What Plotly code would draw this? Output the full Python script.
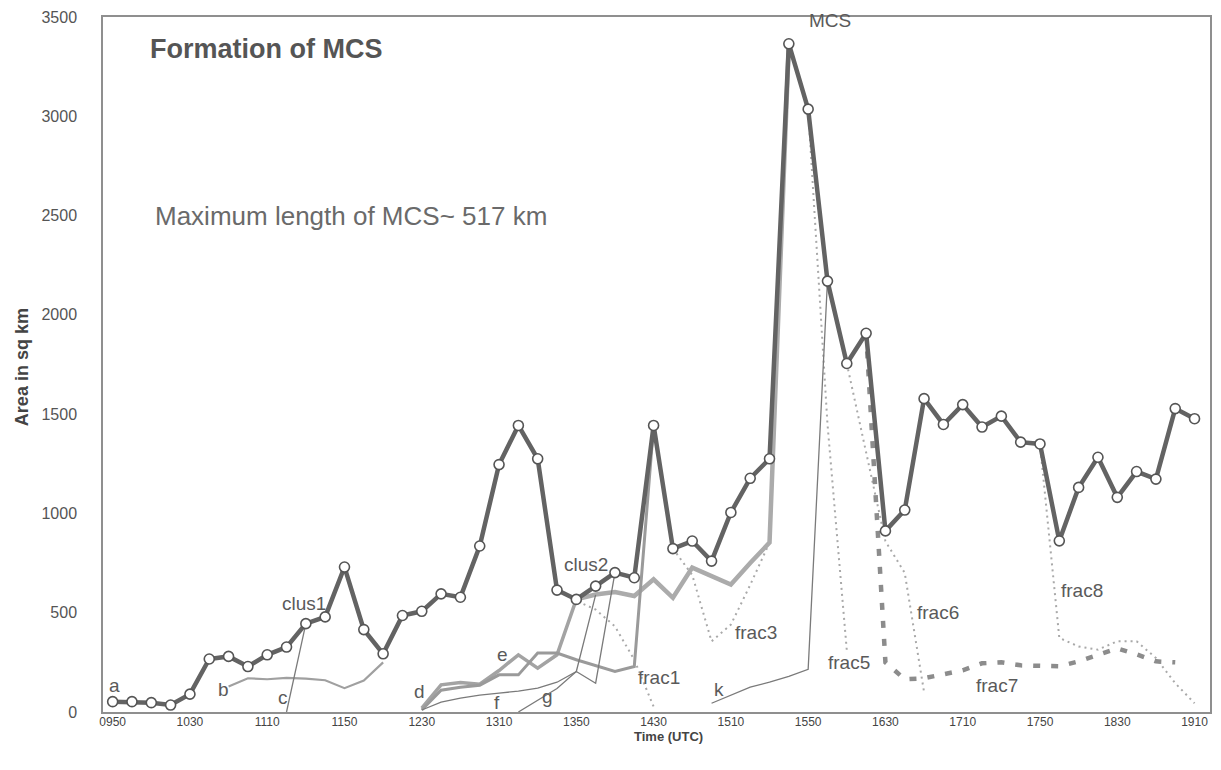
import plotly.graph_objects as go

# ---------------- data ----------------
times = ["0950","1000","1010","1020","1030","1040","1050","1100","1110","1120",
         "1130","1140","1150","1200","1210","1220","1230","1240","1250","1300",
         "1310","1320","1330","1340","1350","1400","1410","1420","1430","1440",
         "1450","1500","1510","1520","1530","1540","1550","1600","1610","1620",
         "1630","1640","1650","1700","1710","1720","1730","1740","1750","1800",
         "1810","1820","1830","1840","1850","1900","1910"]
tick_labels = ["0950","1030","1110","1150","1230","1310","1350","1430","1510",
               "1550","1630","1710","1750","1830","1910"]
y_ticks = [0, 500, 1000, 1500, 2000, 2500, 3000, 3500]

mcs_area = [52,52,47,35,90,267,280,229,288,327,
            445,479,730,415,293,486,507,595,578,836,
            1246,1443,1275,614,567,634,702,676,1443,823,
            861,760,1005,1177,1275,3365,3036,2170,1755,1907,
            912,1017,1578,1448,1548,1435,1490,1359,1350,862,
            1131,1283,1081,1211,1173,1528,1477]

b_time = ["1050","1100","1110","1120","1130","1140","1150","1200","1210"]
b_area = [128,170,165,172,168,160,120,158,250]

c_time = ["1120","1130"]
c_area = [0,445]

d_time = ["1230","1240","1250","1300","1310","1320","1330","1340","1350","1400","1410","1420","1430"]
d_area = [10,110,125,135,187,187,297,297,263,235,204,229,1443]

e_time = ["1230","1240","1250","1300","1310","1320","1330","1340","1350"]
e_area = [20,137,149,140,209,288,221,288,567]

f_time = ["1230","1240","1250","1300","1310","1320","1330","1340","1350","1400"]
f_area = [10,50,70,85,95,105,120,150,204,590]

g_time = ["1320","1330","1340","1350","1400","1410"]
g_area = [0,57,118,204,145,702]

clus2_time = ["1350","1400","1410","1420","1430","1440","1450","1500","1510","1520","1530","1540"]
clus2_area = [567,592,604,584,668,575,727,684,642,750,853,3365]

k_time = ["1500","1510","1520","1530","1540","1550","1600"]
k_area = [44,85,125,150,180,215,2172]

frac1_time = ["1340","1350","1400","1410","1420","1430"]
frac1_area = [614,560,516,431,263,27]

frac3_time = ["1440","1450","1500","1510","1520","1530"]
frac3_area = [823,690,356,440,640,853]

frac5_time = ["1550","1600","1610"]
frac5_area = [3036,1450,310]

frac6_time = ["1610","1620","1630","1640","1650"]
frac6_area = [1755,1300,860,700,100]

frac7_time = ["1620","1630","1640","1650","1700","1710","1720","1730","1740","1750",
              "1800","1810","1820","1830","1840","1850","1900"]
frac7_area = [1907,250,165,170,190,210,245,250,235,230,230,255,290,320,290,255,250]

frac8_time = ["1750","1800","1810","1820","1830","1840","1850","1900","1910"]
frac8_area = [1350,373,330,314,356,356,272,145,44]

# label text and their (category position, area) anchors
label_text = ["a","b","c","d","e","f","g","clus1","clus2","frac1","k","frac3",
              "MCS","frac5","frac6","frac7","frac8"]
label_x = [0.1,5.75,8.8,15.9,20.2,19.9,22.5,9.9,24.5,28.3,31.4,33.3,
           37.15,38.1,42.7,45.8,50.2]
label_y = [131,111,71,101,288,46,76,546,743,175,111,399,
           3480,248,501,135,612]

# ---------------- figure ----------------
FONT = "Liberation Sans, Arial, sans-serif"
fig = go.Figure()

def line(x, y, color, width, dash="solid"):
    fig.add_trace(go.Scatter(x=x, y=y, mode="lines",
                             line=dict(color=color, width=width, dash=dash),
                             showlegend=False, hoverinfo="skip"))

dot = "2px,4px"
for xs, ys in [(frac1_time, frac1_area), (frac3_time, frac3_area),
               (frac5_time, frac5_area), (frac6_time, frac6_area),
               (frac8_time, frac8_area)]:
    line(xs, ys, "#a9a9a9", 2, dot)

line(frac7_time, frac7_area, "#8c8c8c", 4.5, "7px,11px")

line(clus2_time, clus2_area, "#ababab", 4.5)
line(e_time, e_area, "#a3a3a3", 3.5)
line(d_time, d_area, "#9a9a9a", 3)
line(b_time, b_area, "#a0a0a0", 2.2)

for xs, ys in [(c_time, c_area), (f_time, f_area), (g_time, g_area), (k_time, k_area)]:
    line(xs, ys, "#7a7a7a", 1.3)

fig.add_trace(go.Scatter(x=times, y=mcs_area, mode="lines+markers",
                         line=dict(color="#636363", width=4.5),
                         marker=dict(symbol="circle", size=10, color="white",
                                     line=dict(color="#555555", width=1.6)),
                         showlegend=False, hoverinfo="skip"))

annotations = []
for t, x, y in zip(label_text, label_x, label_y):
    annotations.append(dict(x=x, y=y, xref="x", yref="y", text=t, showarrow=False,
                            font=dict(family=FONT, size=19, color="#5a5a5a"),
                            xanchor="center", yanchor="middle"))

L, R, T, B = 103, 9, 15, 58
PW, PH = 1221 - L - R, 770 - T - B
def px(x):
    return (x - L) / PW
def py(y):
    return (770 - B - y) / PH

annotations += [
    dict(x=px(148), y=py(47), xref="paper", yref="paper",
         text="<b>Formation of MCS</b>", showarrow=False, xanchor="left", yanchor="middle",
         font=dict(family=FONT, size=27, color="#555555")),
    dict(x=px(153), y=py(215), xref="paper", yref="paper",
         text="Maximum length of MCS~ 517 km", showarrow=False, xanchor="left", yanchor="middle",
         font=dict(family=FONT, size=26, color="#6a6a6a")),
    dict(x=px(22), y=py(366), xref="paper", yref="paper",
         text="<b>Area in sq km</b>", showarrow=False, textangle=-90,
         xanchor="center", yanchor="middle",
         font=dict(family=FONT, size=18, color="#444444")),
    dict(x=px(670), y=py(737), xref="paper", yref="paper",
         text="<b>Time (UTC)</b>", showarrow=False, xanchor="center", yanchor="middle",
         font=dict(family=FONT, size=13, color="#444444")),
]

fig.update_layout(
    width=1221, height=770,
    margin=dict(l=L, r=R, t=T, b=B),
    paper_bgcolor="white", plot_bgcolor="white",
    annotations=annotations,
    xaxis=dict(type="category", categoryorder="array", categoryarray=times,
               range=[-0.5, 56.8], tickvals=tick_labels, ticktext=tick_labels,
               showgrid=False, zeroline=False, showline=True, mirror=True,
               linecolor="#8f8f8f", linewidth=1.5, ticks="",
               ticklabelstandoff=-2,
               tickfont=dict(family=FONT, size=12, color="#444444")),
    yaxis=dict(range=[0, 3500], tickvals=y_ticks,
               showgrid=False, zeroline=False, showline=True, mirror=True,
               linecolor="#8f8f8f", linewidth=1.5, ticks="",
               ticklabelstandoff=21,
               tickfont=dict(family=FONT, size=16, color="#555555")),
)

fig.write_html("out.html", config={"displayModeBar": False},
               post_script="document.body.style.margin='0';")
